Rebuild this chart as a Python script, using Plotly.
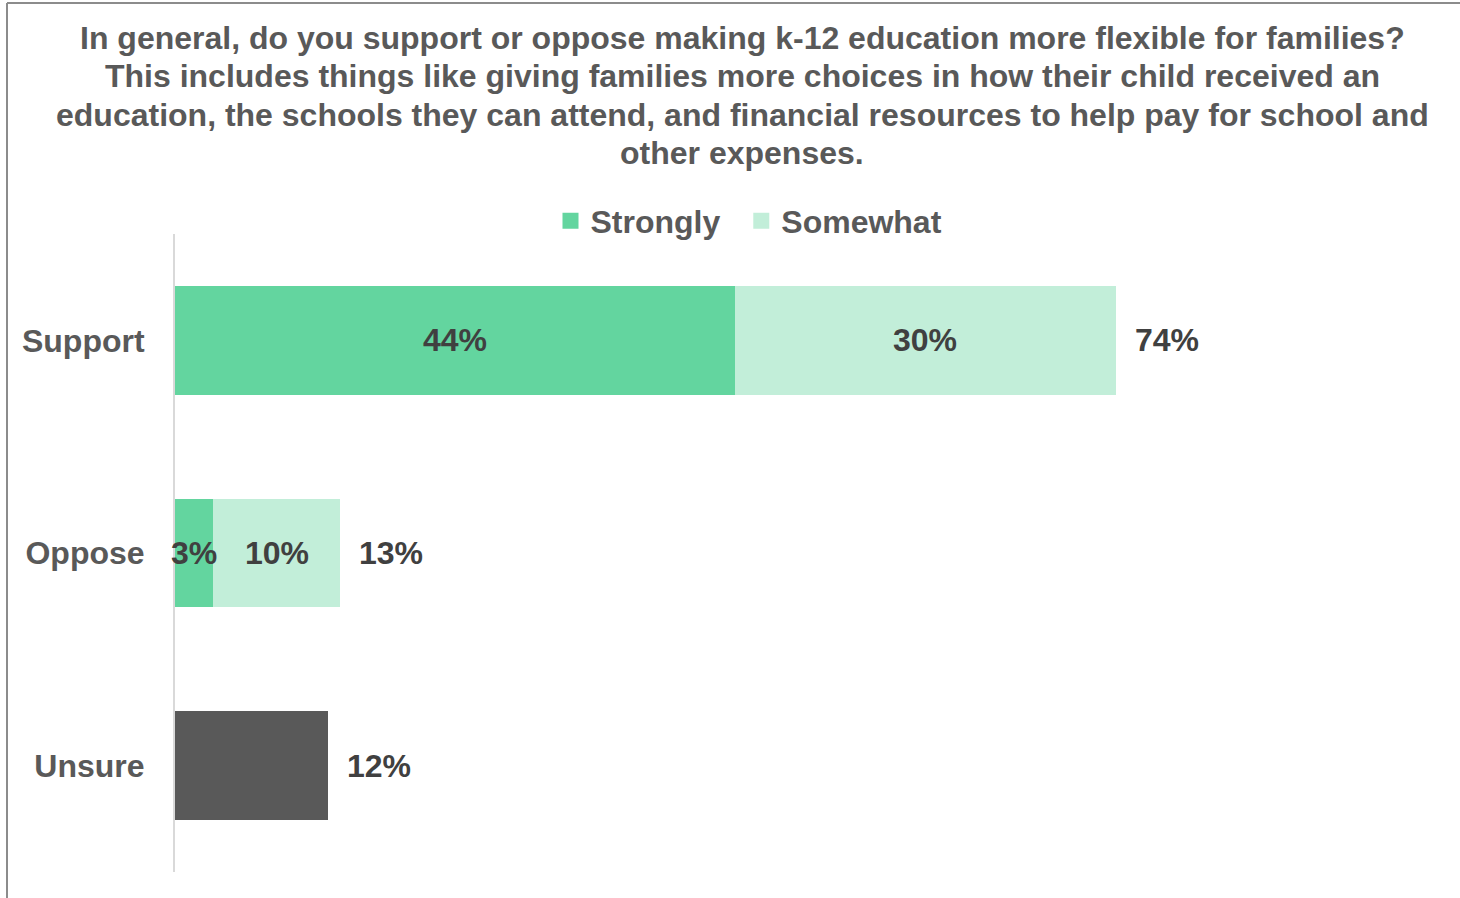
import plotly.graph_objects as go

categories = ["Support", "Oppose", "Unsure"]
split_categories = ["Support", "Oppose"]
strongly = [44, 3]
somewhat = [30, 10]
unsure_cat = ["Unsure"]
unsure = [12]
totals = [74, 13, 12]

title_lines = [
    "In general, do you support or oppose making k-12 education more flexible for families?",
    "This includes things like giving families more choices in how their child received an",
    "education, the schools they can attend, and financial resources to help pay for school and",
    "other expenses.",
]

FONT = "Liberation Sans, Arial, sans-serif"
GREEN = "#63d59f"
LIGHT = "#c2eed9"
DARK = "#595959"
FS = 32

fig = go.Figure()
fig.add_trace(go.Bar(
    name="Strongly", y=split_categories, x=strongly, orientation="h",
    marker=dict(color=GREEN, line=dict(width=0)),
    hoverinfo="skip", showlegend=False,
))
fig.add_trace(go.Bar(
    name="Somewhat", y=split_categories, x=somewhat, orientation="h",
    marker=dict(color=LIGHT, line=dict(width=0)),
    hoverinfo="skip", showlegend=False,
))
fig.add_trace(go.Bar(
    name="Unsure", y=unsure_cat, x=unsure, orientation="h",
    marker=dict(color=DARK, line=dict(width=0)),
    showlegend=False, hoverinfo="skip",
))
# legend entries with larger square swatches
for name, col in [("Strongly\u2002", GREEN), ("Somewhat", LIGHT)]:
    fig.add_trace(go.Scatter(
        name=name, x=[None], y=[None], mode="markers",
        marker=dict(symbol="square", size=16, color=col, line=dict(width=0)),
        showlegend=True, hoverinfo="skip",
    ))

L, R, T, B = 175, 13, 234, 26
W, H = 1460, 898
pw, ph = W - L - R, H - T - B

def px_to_paper_x(px):
    return (px - L) / pw

def py_to_paper_y(py):
    return (H - B - py) / ph

label_font = dict(family=FONT, size=FS, color="#404040", weight="bold")
annotations = []
# segment labels, centred in each stacked segment
for cat, s, m in zip(split_categories, strongly, somewhat):
    annotations.append(dict(x=s / 2, y=cat, xref="x", yref="y", text=f"{s}%",
                            showarrow=False, xanchor="center", yanchor="middle",
                            font=label_font))
    annotations.append(dict(x=s + m / 2, y=cat, xref="x", yref="y", text=f"{m}%",
                            showarrow=False, xanchor="center", yanchor="middle",
                            font=label_font))
# totals outside bars
for cat, tot in zip(categories, totals):
    annotations.append(dict(
        x=tot, y=cat, xref="x", yref="y", text=f"{tot}%", showarrow=False,
        xanchor="left", yanchor="middle", xshift=17, font=label_font,
    ))

for i, line in enumerate(title_lines):
    annotations.append(dict(
        x=px_to_paper_x(742), y=py_to_paper_y(38 + 38.3 * i),
        xref="paper", yref="paper",
        text=line, showarrow=False, xanchor="center", yanchor="middle",
        font=dict(family=FONT, size=FS, color=DARK, weight="bold"),
    ))

shapes = [
    dict(type="line", xref="paper", yref="paper",
         x0=px_to_paper_x(7), x1=px_to_paper_x(1500),
         y0=py_to_paper_y(3), y1=py_to_paper_y(3),
         line=dict(color="#8c8c8c", width=2)),
    dict(type="line", xref="paper", yref="paper",
         x0=px_to_paper_x(7), x1=px_to_paper_x(7),
         y0=py_to_paper_y(3), y1=py_to_paper_y(950),
         line=dict(color="#8c8c8c", width=2)),
]

fig.update_layout(
    width=W, height=H,
    margin=dict(l=L, r=R, t=T, b=B, autoexpand=False),
    barmode="stack", bargap=0.49,
    plot_bgcolor="white", paper_bgcolor="white",
    showlegend=True,
    legend=dict(
        orientation="h", xref="container", yref="container",
        x=749 / W, xanchor="center", y=1 - 221 / H, yanchor="middle",
        font=dict(family=FONT, size=FS, color=DARK, weight="bold"),
        itemwidth=30, itemsizing="trace", traceorder="normal",
    ),
    xaxis=dict(range=[0, pw / 12.72], visible=False, fixedrange=True),
    yaxis=dict(
        categoryorder="array", categoryarray=categories, autorange="reversed",
        showline=True, linecolor="#d9d9d9", linewidth=2, showgrid=False,
        zeroline=False, ticks="", ticklabelstandoff=22,
        tickfont=dict(family=FONT, size=FS, color=DARK, weight="bold"),
    ),
    annotations=annotations,
    shapes=shapes,
    font=dict(family=FONT),
)

fig.write_html("out.html")
